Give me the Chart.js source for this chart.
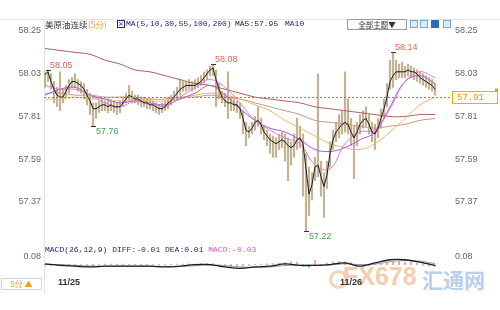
<!DOCTYPE html>
<html lang="zh">
<head>
<meta charset="utf-8">
<title>美原油连续(5分)</title>
<script src="https://cdn.jsdelivr.net/npm/chart.js@4.4.1/dist/chart.umd.min.js"></script>
<style>
  body { margin: 0; background: #fff; }
  #wrap { position: relative; width: 500px; height: 310px; overflow: hidden; font-family: "Liberation Sans", Arial, sans-serif; }
  .abs { position: absolute; white-space: nowrap; }
  .cn { font-family: "Noto Sans CJK SC", sans-serif; font-size: 8.5px; line-height: 10px; color: #333; }
  .mono { font-family: "Liberation Mono", "DejaVu Sans Mono", monospace; font-size: 8px; line-height: 10px; color: #222; }
  .navy { color: #24246e; }
  .org { color: #f0a020; }
  .btn { border: 1px solid #9a9a9a; background: #fafafa; text-align: center; }
  .ico { width: 6px; height: 6px; border: 1px solid #6fa9d9; background: #dcebf8; }
  canvas { position: absolute; left: 0; }
</style>
</head>
<body>
<div id="wrap">
  <!-- 水印 -->
  <div class="abs" style="left:329px;top:270px;width:13px;height:13px;border:3px solid #f7d3b6;border-radius:50%;"></div>
  <div class="abs" style="left:343px;top:262px;font:bold 25px 'Liberation Sans',sans-serif;color:#f6cdb0;">FX678</div>
  <div class="abs" style="left:422px;top:264px;font:bold 21px 'Noto Sans CJK SC',sans-serif;color:#b9d0ec;">汇通网</div>

  <div class="abs" style="left:0;top:19px;width:500px;height:1px;background:#e3e3e3;"></div>
  <div class="abs" style="left:44px;top:19px;width:1px;height:274px;background:#e3e3e3;"></div>

  <canvas id="main" width="500" height="226" style="top:19px"></canvas>
  <canvas id="macd" width="500" height="46" style="top:245px"></canvas>

  <!-- 标题栏 -->
  <span class="abs cn" style="left:45px;top:19px;">美原油连续</span>
  <span class="abs cn org" style="left:88px;top:19px;">(5分)</span>
  <span class="abs" style="left:117px;top:20px;width:6px;height:6px;border:1px solid #24246e;font:7px 'DejaVu Sans';line-height:6px;text-align:center;color:#24246e;">×</span>
  <span class="abs mono navy" style="left:126px;top:19px;">MA(5,10,30,55,100,200)</span>
  <span class="abs mono" style="left:235px;top:19px;">MA5:57.95</span>
  <span class="abs mono navy" style="left:285px;top:19px;">MA10</span>

  <div class="abs btn cn" style="left:347px;top:19px;width:58px;height:9px;line-height:9px;font-size:7.5px;">全部主题▼</div>
  <div class="abs ico" style="left:410px;top:20px;"></div>
  <div class="abs ico" style="left:420px;top:20px;"></div>
  <div class="abs ico" style="left:431px;top:20px;background:#2d6bb5;border-color:#2d6bb5;"></div>
  <div class="abs ico" style="left:443px;top:20px;"></div>

  <!-- MACD 标题 -->
  <div class="abs mono navy" style="left:45px;top:245px;">MACD(26,12,9) DIFF:-0.01 DEA:0.01 <span style="color:#d25fd2">MACD:-0.03</span></div>

  <div class="abs cn org" style="left:1px;top:278px;width:39px;height:10px;border:1px solid #d6d6d6;text-align:center;font-size:8px;">5分 ▲</div>
</div>

<script>
  // ---- 数据 ----
  const yTicks = [58.25, 58.03, 57.81, 57.59, 57.37];
  const macdTicks = [0.08];
  const dateTicks = [8, 102];
  const dateLabels = ['11/25', '11/26'];
  const lastPrice = 57.91;

  const closeVals = [
    58.025, 58.04, 57.99, 57.95, 57.92, 57.91, 57.91, 57.94, 57.97, 57.99,
    57.99, 57.98, 57.97, 57.95, 57.92, 57.89, 57.85, 57.85, 57.86, 57.87,
    57.87, 57.86, 57.87, 57.86, 57.86, 57.86, 57.88, 57.90, 57.92, 57.91,
    57.90, 57.90, 57.89, 57.88, 57.88, 57.87, 57.87, 57.86, 57.85, 57.85,
    57.86, 57.88, 57.89, 57.91, 57.93, 57.95, 57.96, 57.97, 57.97, 57.97,
    57.97, 57.98, 57.99, 58.01, 58.03, 58.05, 58.06, 58.00, 57.95, 57.91,
    57.89, 57.88, 57.88, 57.87, 57.87, 57.85, 57.80, 57.74, 57.73, 57.75,
    57.78, 57.79, 57.77, 57.73, 57.71, 57.69, 57.68, 57.67, 57.68, 57.69,
    57.68, 57.66, 57.65, 57.66, 57.69, 57.70, 57.67, 57.54, 57.41, 57.46,
    57.55, 57.56, 57.50, 57.45, 57.51, 57.62, 57.69, 57.73, 57.75, 57.77,
    57.78, 57.77, 57.73, 57.70, 57.73, 57.77, 57.79, 57.80, 57.77, 57.73,
    57.72, 57.75, 57.80, 57.85, 57.91, 57.99, 58.02, 58.04, 58.04, 58.04,
    58.04, 58.05, 58.04, 58.04, 58.03, 58.01, 58.00, 57.99, 57.98, 57.97,
    57.95
  ];
  const highVals = [
    58.04, 58.05, 58.03, 57.99, 57.96, 58.04, 57.95, 57.97, 58.00, 58.01,
    58.03, 58.00, 57.99, 57.98, 57.95, 57.93, 57.88, 57.88, 57.89, 57.90,
    57.89, 57.90, 57.89, 57.89, 57.88, 57.89, 57.91, 57.93, 57.97, 57.94,
    57.92, 57.92, 57.91, 57.91, 57.90, 57.90, 57.89, 57.88, 57.87, 57.88,
    57.89, 57.91, 57.92, 57.94, 57.96, 58.00, 57.99, 57.99, 58.00, 57.99,
    58.00, 58.01, 58.02, 58.04, 58.05, 58.07, 58.08, 58.05, 57.98, 57.94,
    57.93, 58.04, 57.91, 57.90, 57.89, 57.88, 57.84, 57.78, 57.76, 57.78,
    57.81, 57.86, 57.80, 57.76, 57.74, 57.72, 57.71, 57.70, 57.72, 57.73,
    57.72, 57.70, 57.68, 57.72, 57.80, 57.76, 57.72, 57.62, 57.55, 57.52,
    57.60, 58.03, 57.58, 57.52, 57.58, 57.68, 57.74, 57.78, 57.82, 57.84,
    58.04, 57.90, 57.80, 57.76, 57.78, 57.82, 57.84, 57.86, 57.82, 57.78,
    57.77, 57.80, 57.85, 57.90, 57.98, 58.10, 58.14, 58.10, 58.08, 58.09,
    58.07, 58.08, 58.07, 58.06, 58.05, 58.04, 58.03, 58.02, 58.01, 58.00,
    57.98
  ];
  const lowVals = [
    57.96, 57.99, 57.95, 57.88, 57.86, 57.84, 57.88, 57.91, 57.93, 57.96,
    57.96, 57.94, 57.93, 57.90, 57.87, 57.82, 57.76, 57.80, 57.83, 57.84,
    57.84, 57.83, 57.84, 57.83, 57.82, 57.83, 57.86, 57.88, 57.89, 57.88,
    57.88, 57.87, 57.86, 57.86, 57.85, 57.85, 57.84, 57.83, 57.82, 57.83,
    57.84, 57.85, 57.87, 57.89, 57.90, 57.92, 57.94, 57.94, 57.95, 57.94,
    57.95, 57.96, 57.97, 57.98, 58.00, 58.02, 58.02, 57.86, 57.90, 57.88,
    57.86, 57.80, 57.84, 57.84, 57.83, 57.80, 57.72, 57.66, 57.70, 57.72,
    57.74, 57.76, 57.72, 57.69, 57.66, 57.62, 57.60, 57.60, 57.64, 57.65,
    57.58, 57.48, 57.56, 57.60, 57.64, 57.65, 57.40, 57.22, 57.30, 57.38,
    57.48, 57.50, 57.40, 57.29, 57.44, 57.55, 57.64, 57.68, 57.70, 57.72,
    57.73, 57.72, 57.66, 57.49, 57.66, 57.72, 57.75, 57.76, 57.72, 57.68,
    57.64, 57.70, 57.75, 57.80, 57.86, 57.95, 57.96, 58.00, 58.01, 58.01,
    58.01, 58.02, 58.01, 58.00, 57.99, 57.98, 57.97, 57.96, 57.95, 57.94,
    57.92
  ];

  // 均线（每5根取一点）
  const maIdx = [0, 5, 10, 15, 20, 25, 30, 35, 40, 45, 50, 55, 60, 65, 70, 75, 80, 85, 90, 95, 100, 105, 110, 115, 120, 125, 130];
  const ma10Vals = [57.97, 57.95, 57.95, 57.92, 57.88, 57.86, 57.89, 57.88, 57.86, 57.91, 57.96, 58.00, 57.96, 57.88, 57.79, 57.74, 57.70, 57.67, 57.56, 57.54, 57.67, 57.73, 57.74, 57.85, 57.99, 58.04, 58.01];
  const ma30Vals = [57.92, 57.95, 57.96, 57.92, 57.90, 57.88, 57.89, 57.88, 57.87, 57.90, 57.93, 57.97, 57.92, 57.85, 57.79, 57.75, 57.73, 57.69, 57.64, 57.63, 57.65, 57.69, 57.73, 57.86, 57.99, 58.02, 57.98];
  const ma55Vals = [57.90, 57.90, 57.91, 57.90, 57.90, 57.89, 57.90, 57.89, 57.89, 57.90, 57.92, 57.93, 57.92, 57.90, 57.87, 57.84, 57.79, 57.75, 57.71, 57.67, 57.65, 57.64, 57.67, 57.73, 57.80, 57.87, 57.91];
  const ma100Vals = [57.93, 57.93, 57.92, 57.92, 57.91, 57.91, 57.91, 57.90, 57.90, 57.91, 57.91, 57.92, 57.91, 57.90, 57.88, 57.86, 57.84, 57.82, 57.79, 57.78, 57.77, 57.76, 57.75, 57.76, 57.77, 57.79, 57.80];
  const ma200Vals = [58.16, 58.15, 58.14, 58.13, 58.10, 58.08, 58.05, 58.04, 58.02, 58.00, 57.98, 57.97, 57.95, 57.93, 57.91, 57.90, 57.89, 57.88, 57.86, 57.85, 57.84, 57.83, 57.82, 57.81, 57.81, 57.82, 57.82];

  // 最高/最低标注
  const extIdx = [1, 56, 116, 16, 87];
  const extVals = [58.05, 58.08, 58.14, 57.76, 57.22];
  const extKind = ['h', 'h', 'h', 'l', 'l'];

  // MACD
  const diffVals = [0.008, -0.008, -0.017, -0.025, -0.017, -0.017, -0.017, -0.017, -0.025, -0.017, 0, 0, -0.025, -0.04, -0.025, -0.017, 0.008, -0.008, -0.008, 0, 0.017, -0.017, 0.017, 0.05, 0.05, 0.025, -0.01];
  const deaVals = [0, 0, -0.008, -0.015, -0.02, -0.018, -0.018, -0.018, -0.02, -0.02, -0.012, -0.005, -0.012, -0.025, -0.03, -0.025, -0.01, -0.008, -0.008, -0.004, 0.008, 0, 0.005, 0.03, 0.042, 0.035, 0.01];
  // 柱（每2根一柱）
  const histVals = [
    -0.005, -0.008, -0.01, -0.008, -0.005,
    -0.01, -0.015, -0.018, -0.015, -0.01,
    0.004, 0.006, 0.005, 0.004, 0.003, 0.002, 0.003, 0.002,
    -0.003, -0.005, -0.004, 0.002, 0.004, 0.006, 0.008, 0.008,
    0.01, 0.012, 0.01,
    -0.012, -0.018, -0.022, -0.02, -0.015,
    -0.008, -0.004, 0.004, 0.008, 0.01, 0.012,
    0.02, 0.028, 0.022,
    -0.02, -0.03, 0.045, -0.01,
    0.015, 0.025, 0.03, 0.028, 0.02,
    -0.02, -0.025, -0.012,
    0.006, 0.012, 0.02,
    0.028, 0.03, 0.026, 0.022, 0.015,
    -0.01, -0.015, -0.02
  ];

  // ---- 공통 ----
  const X_MIN = -1 / 3, X_MAX = 135.33;
  const tickFont = { family: 'Liberation Sans', size: 9 };
  const pts = (idx, vals) => vals.map((v, k) => ({ x: idx[k], y: v }));
  const barIdx = closeVals.map((v, i) => i);

  function sideAxis(pos, min, max, ticks, width) {
    return {
      position: pos, min: min, max: max,
      grid: { display: false, drawTicks: false },
      border: { display: false },
      ticks: { font: tickFont, color: '#666', padding: pos === 'left' ? 3 : 4, callback: v => v.toFixed(2) },
      afterBuildTicks: s => { s.ticks = ticks.map(v => ({ value: v })); },
      afterFit: s => { s.width = width; s.paddingTop = 0; s.paddingBottom = 0; }
    };
  }

  const priceLinePlugin = {
    id: 'priceLine',
    afterDatasetsDraw(chart) {
      const { ctx, chartArea, scales } = chart;
      const y = Math.round(scales.y.getPixelForValue(lastPrice)) + 0.5;
      ctx.save();
      ctx.strokeStyle = '#3c9bd6';
      ctx.setLineDash([2, 2]);
      ctx.beginPath();
      ctx.moveTo(chartArea.left, y);
      ctx.lineTo(chartArea.right, y);
      ctx.stroke();
      ctx.setLineDash([]);
      // 右侧现价框
      ctx.fillStyle = '#fffdf2';
      ctx.strokeStyle = '#f0b000';
      ctx.fillRect(chartArea.right + 1.5, y - 6, 45, 12);
      ctx.strokeRect(chartArea.right + 1.5, y - 6, 45, 12);
      ctx.fillStyle = '#e2a000';
      ctx.font = '9px "Liberation Mono"';
      ctx.textBaseline = 'middle';
      ctx.fillText(lastPrice.toFixed(2), chartArea.right + 6, y + 0.5);
      ctx.fillRect(chartArea.right + 44, y - 9, 3, 3);
      ctx.restore();
    }
  };

  const extremePlugin = {
    id: 'extremes',
    afterDatasetsDraw(chart) {
      const { ctx, scales } = chart;
      ctx.save();
      ctx.font = '9px "Liberation Sans"';
      extIdx.forEach((idx, k) => {
        const x = scales.x.getPixelForValue(idx);
        const y = scales.y.getPixelForValue(extVals[k]);
        ctx.strokeStyle = '#333';
        ctx.beginPath();
        ctx.moveTo(x - 2, Math.round(y) + 0.5);
        ctx.lineTo(x + 3, Math.round(y) + 0.5);
        ctx.stroke();
        ctx.textBaseline = 'alphabetic';
        if (extKind[k] === 'h') {
          ctx.fillStyle = '#d8655d';
          ctx.fillText(extVals[k].toFixed(2), x + 2, y - 2);
        } else {
          ctx.fillStyle = '#4e9c58';
          ctx.fillText(extVals[k].toFixed(2), x + 3, y + 8);
        }
      });
      ctx.restore();
    }
  };

  function maLine(vals, color) {
    return {
      type: 'line', data: pts(maIdx, vals), borderColor: color, borderWidth: 1,
      pointRadius: 0, tension: 0.4, order: 5, yAxisID: 'y'
    };
  }

  new Chart(document.getElementById('main'), {
    type: 'bar',
    data: {
      datasets: [
        {
          type: 'line', label: 'close', data: pts(barIdx, closeVals), borderColor: '#1b1b1b',
          borderWidth: 1, pointRadius: 0, tension: 0, order: 1, yAxisID: 'y'
        },
        maLine(ma10Vals, '#e27cc6'),
        maLine(ma30Vals, '#a65bd6'),
        maLine(ma55Vals, '#f1b565'),
        maLine(ma100Vals, '#c29a80'),
        maLine(ma200Vals, '#b35d5d'),
        {
          type: 'bar', label: 'k', data: barIdx.map(i => ({ x: i, y: [lowVals[i], highVals[i]] })),
          backgroundColor: 'rgba(186,166,128,0.85)', barThickness: 1.5, order: 10, yAxisID: 'y'
        }
      ]
    },
    options: {
      responsive: false, animation: false,
      layout: { padding: 0 },
      plugins: { legend: { display: false }, tooltip: { enabled: false } },
      scales: {
        x: { type: 'linear', min: X_MIN, max: X_MAX, offset: false, display: false },
        y: sideAxis('left', 57.1487, 58.3118, yTicks, 44),
        yR: sideAxis('right', 57.1487, 58.3118, yTicks, 49)
      }
    },
    plugins: [priceLinePlugin, extremePlugin]
  });

  new Chart(document.getElementById('macd'), {
    type: 'bar',
    data: {
      datasets: [
        {
          type: 'line', label: 'DIFF', data: pts(maIdx, diffVals), borderColor: '#1b1b1b',
          borderWidth: 1.3, pointRadius: 0, tension: 0.4, order: 1, yAxisID: 'y'
        },
        {
          type: 'line', label: 'DEA', data: pts(maIdx, deaVals), borderColor: '#9a9a9a',
          borderWidth: 1, pointRadius: 0, tension: 0.4, order: 2, yAxisID: 'y'
        },
        {
          type: 'bar', label: 'MACD', data: histVals.map((v, k) => ({ x: k * 2, y: v })),
          backgroundColor: c => (c.raw && c.raw.y >= 0) ? 'rgba(226,110,110,0.6)' : 'rgba(70,170,110,0.6)',
          barThickness: 1.5, order: 5, yAxisID: 'y'
        }
      ]
    },
    options: {
      responsive: false, animation: false,
      layout: { padding: { top: 8 } },
      plugins: { legend: { display: false }, tooltip: { enabled: false } },
      scales: {
        x: {
          type: 'linear', min: X_MIN, max: X_MAX, offset: false,
          grid: { display: false, drawTicks: false }, border: { display: false },
          ticks: {
            font: { family: 'Liberation Sans', size: 9, weight: 'bold' }, color: '#333', padding: 3, maxRotation: 0,
            callback: v => dateLabels[dateTicks.indexOf(v)]
          },
          afterBuildTicks: s => { s.ticks = dateTicks.map(v => ({ value: v })); },
          afterFit: s => { s.paddingLeft = 0; s.paddingRight = 0; }
        },
        y: sideAxis('left', -0.10, 0.12, macdTicks, 44),
        yR: sideAxis('right', -0.10, 0.12, macdTicks, 49)
      }
    }
  });
</script>
</body>
</html>
